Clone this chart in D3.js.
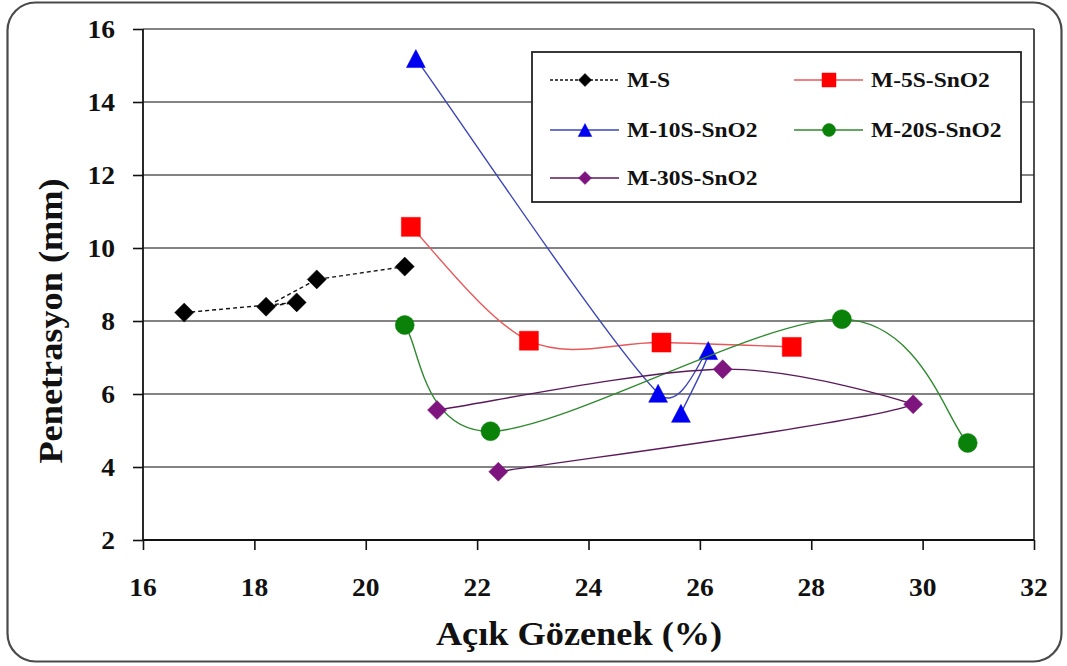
<!DOCTYPE html>
<html>
<head>
<meta charset="utf-8">
<script src="https://cdn.jsdelivr.net/npm/d3@7"></script>
<style>
  html, body { margin: 0; padding: 0; background: #fff; }
  svg { display: block; }
</style>
</head>
<body>
<svg id="chart" width="1067" height="666"></svg>
<script>
// Açık gözenek (%) vs. penetrasyon (mm) for each mix
const msX    = [16.74, 18.76, 18.21, 19.12, 20.70];
const msY    = [8.23, 8.51, 8.39, 9.14, 9.49];
const m5X    = [20.81, 22.93, 25.31, 27.65];
const m5Y    = [10.58, 7.46, 7.41, 7.29];
const m10X   = [20.90, 25.25, 26.15, 25.66];
const m10Y   = [15.19, 6.02, 7.19, 5.47];
const m20X   = [20.70, 22.24, 28.55, 30.81];
const m20Y   = [7.89, 4.98, 8.05, 4.66];
const m30X   = [21.28, 26.41, 29.83, 22.38];
const m30Y   = [5.56, 6.68, 5.72, 3.87];

const seriesNames = ["M-S", "M-5S-SnO2", "M-10S-SnO2", "M-20S-SnO2", "M-30S-SnO2"];
const xTicks = [16, 18, 20, 22, 24, 26, 28, 30, 32];
const yTicks = [2, 4, 6, 8, 10, 12, 14, 16];
const xTitle = "Açık Gözenek (%)";
const yTitle = "Penetrasyon (mm)";

const FONT = "'Liberation Serif', 'Times New Roman', Tinos, 'DejaVu Serif', serif";

const svg = d3.select("#chart");
const plot = { left: 143, right: 1034, top: 29, bottom: 540 };

const x = d3.scaleLinear().domain([16, 32]).range([plot.left, plot.right]);
const y = d3.scaleLinear().domain([2, 16]).range([plot.bottom, plot.top]);

// Bold serif text, widened a little horizontally
function stretchedText(g, tx, ty, str, size, anchor, sx, rotate) {
  return g.append("text")
    .attr("transform", `translate(${tx},${ty})` + (rotate ? ` rotate(${rotate})` : "") + ` scale(${sx},1)`)
    .attr("text-anchor", anchor)
    .attr("font-family", FONT)
    .attr("font-weight", "bold")
    .attr("font-size", size)
    .attr("fill", "#111")
    .text(str);
}

// Smoothed path through pixel points: Catmull-Rom tangents, with the
// control-point reach capped at half of each segment's length and dropped
// where the tangent points back against the segment (sharp reversals).
function smoothPath(pts) {
  const p = d3.path();
  const n = pts.length;
  p.moveTo(pts[0][0], pts[0][1]);
  const tangent = i => {
    const a = pts[Math.max(0, i - 1)], b = pts[Math.min(n - 1, i + 1)];
    return [b[0] - a[0], b[1] - a[1]];
  };
  for (let i = 0; i < n - 1; i++) {
    const a = pts[i], b = pts[i + 1];
    const sx = b[0] - a[0], sy = b[1] - a[1];
    const seg = Math.hypot(sx, sy);
    const ta = tangent(i), tb = tangent(i + 1);
    const la = Math.hypot(ta[0], ta[1]) || 1, lb = Math.hypot(tb[0], tb[1]) || 1;
    let ra = Math.min(la / 6, seg * 0.5), rb = Math.min(lb / 6, seg * 0.5);
    if (ta[0] * sx + ta[1] * sy < 0) ra = 0;
    if (tb[0] * sx + tb[1] * sy < 0) rb = 0;
    p.bezierCurveTo(
      a[0] + ta[0] / la * ra, a[1] + ta[1] / la * ra,
      b[0] - tb[0] / lb * rb, b[1] - tb[1] / lb * rb,
      b[0], b[1]);
  }
  return p.toString();
}

// Outer rounded frame
svg.append("rect")
  .attr("x", 7.5).attr("y", 2.5)
  .attr("width", 1054).attr("height", 659)
  .attr("rx", 28).attr("ry", 28)
  .attr("fill", "#fff").attr("stroke", "#4a4a4a").attr("stroke-width", 2.2);

// Horizontal gridlines
svg.append("g").selectAll("line").data(yTicks.filter(d => d > 2)).join("line")
  .attr("x1", plot.left).attr("x2", plot.right)
  .attr("y1", d => y(d)).attr("y2", d => y(d))
  .attr("stroke", "#5a5a5a").attr("stroke-width", 1.6);

// Right border of plot area
svg.append("line")
  .attr("x1", plot.right).attr("x2", plot.right)
  .attr("y1", plot.top).attr("y2", plot.bottom)
  .attr("stroke", "#222").attr("stroke-width", 1.6);

// Axes
const xAxis = d3.axisBottom(x).tickValues(xTicks).tickSize(10).tickFormat("");
const yAxis = d3.axisLeft(y).tickValues(yTicks).tickSize(10).tickFormat("");
const gx = svg.append("g").attr("transform", `translate(0,${plot.bottom})`).call(xAxis);
const gy = svg.append("g").attr("transform", `translate(${plot.left},0)`).call(yAxis);
[gx, gy].forEach(g => {
  g.select(".domain").attr("stroke", "#111").attr("stroke-width", 1.8);
  g.selectAll(".tick line").attr("stroke", "#111").attr("stroke-width", 1.6);
});
gx.select(".domain").attr("d", `M${plot.left},0H${plot.right}`);
gy.select(".domain").attr("d", `M0,${plot.bottom}V${plot.top}`);

// Tick labels
const labels = svg.append("g");
xTicks.forEach(v => stretchedText(labels, x(v), 596, String(v), 25, "middle", 1.1));
yTicks.forEach(v => stretchedText(labels, 115, y(v) + 9, String(v), 25, "end", 1.1));

// Axis titles
stretchedText(svg, 579, 645, xTitle, 33, "middle", 1.1);
stretchedText(svg, 62, 321, yTitle, 33, "middle", 1.1, -90);

// Marker shapes
function markerPath(type, s) {
  const h = s / 2;
  switch (type) {
    case "diamond": return `M0,${-h}L${h},0L0,${h}L${-h},0Z`;
    case "square": return `M${-h},${-h}H${h}V${h}H${-h}Z`;
    case "triangle": return `M0,${-h}L${h * 1.05},${h}L${-h * 1.05},${h}Z`;
    case "circle": return d3.symbol(d3.symbolCircle, Math.PI * h * h)();
  }
}

const series = [
  { name: seriesNames[0], xs: msX, ys: msY, line: "#111", fill: "#000", marker: "diamond", size: 19, dash: "4,3", smooth: false },
  { name: seriesNames[1], xs: m5X, ys: m5Y, line: "#e8585a", fill: "#ff0000", marker: "square", size: 19, smooth: true },
  { name: seriesNames[2], xs: m10X, ys: m10Y, line: "#3a44b8", fill: "#0000f0", marker: "triangle", size: 18, smooth: true },
  { name: seriesNames[3], xs: m20X, ys: m20Y, line: "#2f8a2f", fill: "#0a820a", marker: "circle", size: 19, smooth: true },
  { name: seriesNames[4], xs: m30X, ys: m30Y, line: "#5a1a5a", fill: "#7e147e", marker: "diamond", size: 19, smooth: true }
];

const marks = svg.append("g");
series.forEach(s => {
  const pts = s.xs.map((v, i) => [x(v), y(s.ys[i])]);
  const d = s.smooth ? smoothPath(pts) : d3.line()(pts);
  const g = marks.append("g");
  g.append("path").attr("d", d)
    .attr("fill", "none").attr("stroke", s.line).attr("stroke-width", 1.4)
    .attr("stroke-dasharray", s.dash || null);
  g.selectAll("path.pt").data(pts).join("path").attr("class", "pt")
    .attr("transform", p => `translate(${p[0]},${p[1]})`)
    .attr("d", markerPath(s.marker, s.size))
    .attr("fill", s.fill).attr("stroke", s.fill).attr("stroke-width", 0.5);
});

// Legend
const lg = svg.append("g");
lg.append("rect").attr("x", 532).attr("y", 52).attr("width", 489).attr("height", 150)
  .attr("fill", "#fff").attr("stroke", "#222").attr("stroke-width", 1.8);
const legendPos = [
  { cx: 585, cy: 80 }, { cx: 829, cy: 80 },
  { cx: 585, cy: 130 }, { cx: 829, cy: 130 },
  { cx: 585, cy: 178 }
];
series.forEach((s, i) => {
  const p = legendPos[i];
  lg.append("line").attr("x1", p.cx - 35).attr("x2", p.cx + 34)
    .attr("y1", p.cy).attr("y2", p.cy)
    .attr("stroke", s.line).attr("stroke-width", 1.4)
    .attr("stroke-dasharray", s.dash ? "3,2" : null);
  lg.append("path").attr("transform", `translate(${p.cx},${p.cy})`)
    .attr("d", markerPath(s.marker, s.marker === "square" ? 14 : 13))
    .attr("fill", s.fill).attr("stroke", s.fill).attr("stroke-width", 0.5);
  stretchedText(lg, p.cx + 42, p.cy + 7, s.name, 21, "start", 1.12);
});
</script>
</body>
</html>
